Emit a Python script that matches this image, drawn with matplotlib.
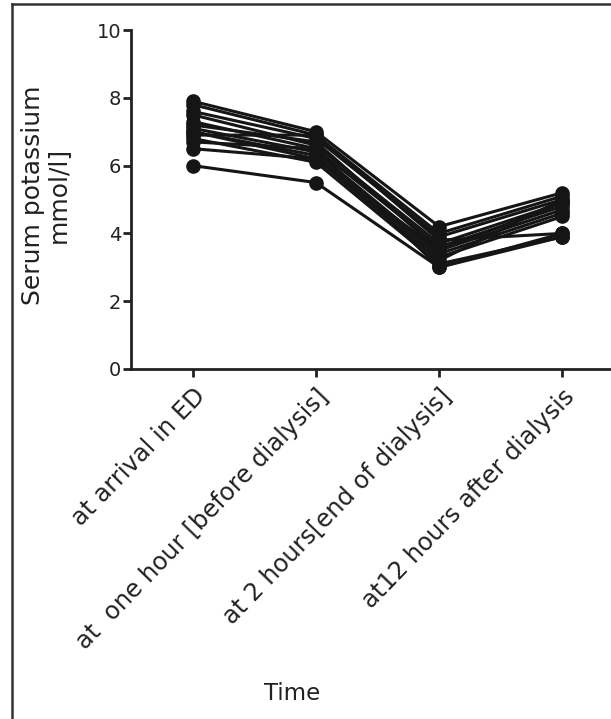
import matplotlib
matplotlib.use("Agg")
import matplotlib.pyplot as plt
from matplotlib.lines import Line2D

plt.rcParams['font.family'] = ['DejaVu Sans']

categories = ["at arrival in ED", "at  one hour [before dialysis]",
              "at 2 hours[end of dialysis]", "at12 hours after dialysis"]
arrival = [7.9, 7.8, 7.6, 7.5, 7.3, 7.2, 7.1, 7.0, 7.0, 6.9, 6.8, 6.7, 6.5, 6.0]
hour1   = [7.0, 6.9, 6.8, 6.6, 6.5, 6.7, 6.4, 6.3, 6.2, 6.9, 6.1, 6.5, 6.2, 5.5]
hour2   = [4.2, 4.0, 3.9, 3.7, 3.6, 3.5, 3.4, 3.3, 3.2, 3.8, 3.1, 3.0, 3.5, 3.0]
hour12  = [5.2, 5.1, 5.0, 4.9, 4.8, 4.7, 4.6, 4.5, 5.0, 4.0, 3.9, 4.0, 4.9, 3.9]
yticks = [0, 2, 4, 6, 8, 10]

W, H = 611, 719
fig = plt.figure(figsize=(W/100, H/100), dpi=100)
ax = fig.add_axes([131/W, 1-369/H, (624-131)/W, (369-30)/H])

x = list(range(len(categories)))
for i in range(len(arrival)):
    ys = [arrival[i], hour1[i], hour2[i], hour12[i]]
    ax.plot(x, ys, color='#151515', lw=2.2, marker='o', ms=9.5,
            mfc='#151515', mec='#151515', solid_capstyle='round', clip_on=False)

ax.set_xlim(-0.5, 3.5)
ax.set_ylim(0, 10)
ax.set_yticks(yticks)
ax.set_yticklabels([str(v) for v in yticks], fontsize=14, color='#222222')
ax.set_xticks(x)
ax.set_xticklabels(categories, rotation=46, ha='right', rotation_mode='anchor',
                   fontsize=17.5, color='#222222')
for s in ['top', 'right']:
    ax.spines[s].set_visible(False)
for s in ['left', 'bottom']:
    ax.spines[s].set_linewidth(2.0)
    ax.spines[s].set_color('#222222')
ax.tick_params(axis='both', direction='out', length=6, width=2.0, colors='#222222', pad=1)
ax.tick_params(axis='x', pad=5)

fig.text(45/W, 1-195/H, "Serum potassium\nmmol/l]", rotation=90, ha='center', va='center',
         multialignment='center', fontsize=18, linespacing=1.05, color='#222222')
fig.text(292/W, 1-694/H, "Time", ha='center', va='center', fontsize=16.5, color='#222222')

# partial frame border (left and top)
fig.add_artist(Line2D([12/W, 12/W], [0, 1-4/H], transform=fig.transFigure, color='#333333', lw=1.8))
fig.add_artist(Line2D([12/W, 1], [1-4/H, 1-4/H], transform=fig.transFigure, color='#333333', lw=1.8))

fig.savefig("out.png", dpi=100)
